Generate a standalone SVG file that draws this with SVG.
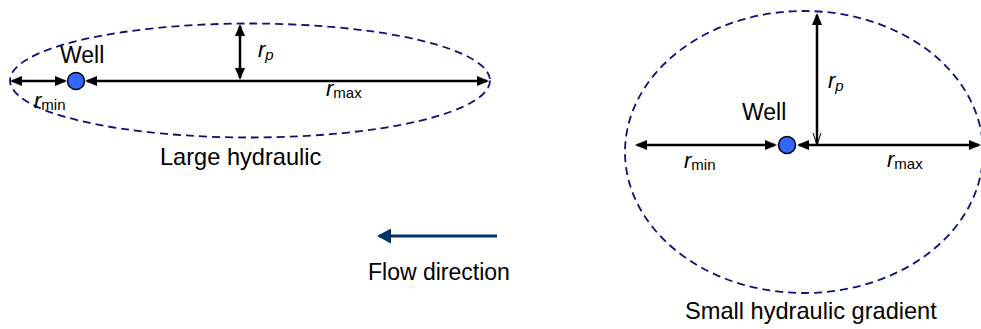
<svg xmlns="http://www.w3.org/2000/svg" width="981" height="329" viewBox="0 0 981 329">
<defs>
<style>
.t{font-family:"Liberation Sans",Arial,sans-serif;font-size:23px;fill:#000}
.c{font-size:23.6px}
.r{font-family:"Liberation Sans",Arial,sans-serif;font-size:22px;font-style:italic;fill:#000}
.sub{font-size:15px;font-style:normal}
.subi{font-size:15px;font-style:italic}
.zone{fill:none;stroke:#10107a;stroke-width:1.8;stroke-dasharray:8 5}
.dim{stroke:#000;stroke-width:2.5;fill:none}
.well{fill:#3366ff;stroke:#000;stroke-width:1.5}
</style>
<marker id="ah" viewBox="0 0 12 10" refX="10" refY="5" markerWidth="12" markerHeight="10" markerUnits="userSpaceOnUse" orient="auto-start-reverse">
<path d="M0,0 L12,5 L0,10 z" fill="#000"/>
</marker>
<marker id="open" viewBox="0 0 12 10" refX="12" refY="5" markerWidth="12" markerHeight="10" markerUnits="userSpaceOnUse" orient="auto">
<path d="M0,1 L12,5 L0,9" fill="none" stroke="#000" stroke-width="1"/>
</marker>
<marker id="flow" viewBox="0 0 14 15" refX="12" refY="7.5" markerWidth="14" markerHeight="15" markerUnits="userSpaceOnUse" orient="auto">
<path d="M0,0 L14,7.5 L0,15 z" fill="#003366"/>
</marker>
</defs>
<rect width="981" height="329" fill="#fff"/>

<g id="zone-large">
<ellipse class="zone" cx="250" cy="80.5" rx="240" ry="57"/>
<text class="t c" x="160" y="165">Large hydraulic</text>
</g>
<g id="zone-small">
<ellipse class="zone" cx="804" cy="152" rx="179" ry="141"/>
<text class="t c" x="685" y="319">Small hydraulic gradient</text>
</g>

<g id="connectors">
<line class="dim" x1="12" y1="81" x2="65" y2="81" marker-start="url(#ah)" marker-end="url(#ah)"/>
<line class="dim" x1="87" y1="81" x2="487" y2="81" marker-start="url(#ah)" marker-end="url(#ah)"/>
<line class="dim" x1="240" y1="26" x2="240" y2="78" marker-start="url(#ah)" marker-end="url(#ah)"/>
<line class="dim" x1="637" y1="145" x2="775" y2="145" marker-start="url(#ah)" marker-end="url(#ah)"/>
<line class="dim" x1="799" y1="145" x2="979" y2="145" marker-start="url(#ah)" marker-end="url(#ah)"/>
<line class="dim" x1="817" y1="15" x2="817" y2="145" marker-start="url(#ah)" marker-end="url(#open)"/>
<line x1="497" y1="236" x2="379" y2="236" stroke="#003366" stroke-width="3" marker-end="url(#flow)"/>
</g>

<g id="well-large">
<circle class="well" cx="76" cy="81" r="8.5"/>
<text class="t" x="60" y="63">Well</text>
</g>
<g id="well-small">
<circle class="well" cx="787" cy="145" r="8.5"/>
<text class="t" x="742" y="120">Well</text>
</g>

<g id="labels">
<text class="r" x="34" y="108">r<tspan class="sub" dy="2">min</tspan></text>
<text class="r" x="326" y="96">r<tspan class="sub" dy="2">max</tspan></text>
<text class="r" x="258" y="57">r<tspan class="subi" dy="3">p</tspan></text>
<text class="r" x="684" y="168">r<tspan class="sub" dy="2">min</tspan></text>
<text class="r" x="887" y="167">r<tspan class="sub" dy="2">max</tspan></text>
<text class="r" x="828" y="88">r<tspan class="subi" dy="3">p</tspan></text>
</g>

<g id="flow-label">
<text class="t" x="368" y="280">Flow direction</text>
</g>
</svg>
